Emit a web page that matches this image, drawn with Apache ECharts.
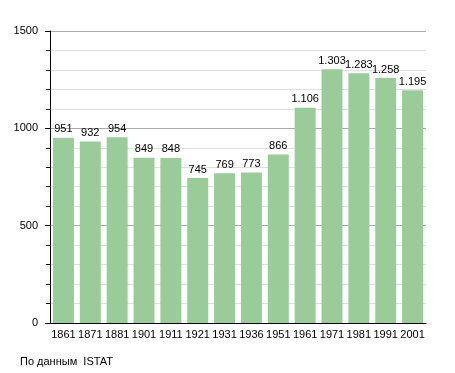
<!DOCTYPE html>
<html><head><meta charset="utf-8">
<script src="https://cdn.jsdelivr.net/npm/echarts@6/dist/echarts.min.js"></script>
<style>html,body{margin:0;padding:0;background:#fff}#c{width:455px;height:373px}</style>
</head><body><div id="c"></div>
<script>
const years = ['1861','1871','1881','1901','1911','1921','1931','1936','1951','1961','1971','1981','1991','2001'];
const population = [951,932,954,849,848,745,769,773,866,1106,1303,1283,1258,1195];
const yTicks = [0,500,1000,1500];
const source = 'По данным  ISTAT';

function fmt(v){ return String(v).replace(/\B(?=(\d{3})+(?!\d))/g,'.'); }

const chart = echarts.init(document.getElementById('c'), null, {renderer:'canvas'});
chart.setOption({
  animation:false,
  textStyle:{fontFamily:'Liberation Sans, Arial, sans-serif'},
  grid:{left:50,right:29,top:31,bottom:50,containLabel:false},
  graphic:[{type:'text',left:20,top:356,style:{text:source,font:'11px Liberation Sans, Arial, sans-serif',fill:'#000'}}],
  xAxis:{type:'category',data:years,
    axisLine:{lineStyle:{color:'#000',width:1}},
    axisTick:{show:false},
    axisLabel:{color:'#000',fontSize:11,margin:6,interval:0}},
  yAxis:{type:'value',min:yTicks[0],max:yTicks[yTicks.length-1],interval:500,
    axisLine:{show:true,lineStyle:{color:'#000'}},
    axisTick:{show:true,length:5,lineStyle:{color:'#000'}},
    minorTick:{show:true,splitNumber:5,length:4,lineStyle:{color:'#000'}},
    axisLabel:{color:'#000',fontSize:11,margin:12,formatter:v=>String(v)},
    splitLine:{show:true,lineStyle:{color:'#aaa'}},
    minorSplitLine:{show:true,lineStyle:{color:'#e0e0e0'}}},
  series:[{type:'bar',data:population,barCategoryGap:'22%',
    itemStyle:{color:'#9acc9a'},
    label:{show:true,position:'top',distance:3,color:'#000',fontSize:11,formatter:p=>fmt(p.value)}}]
});
</script></body></html>
